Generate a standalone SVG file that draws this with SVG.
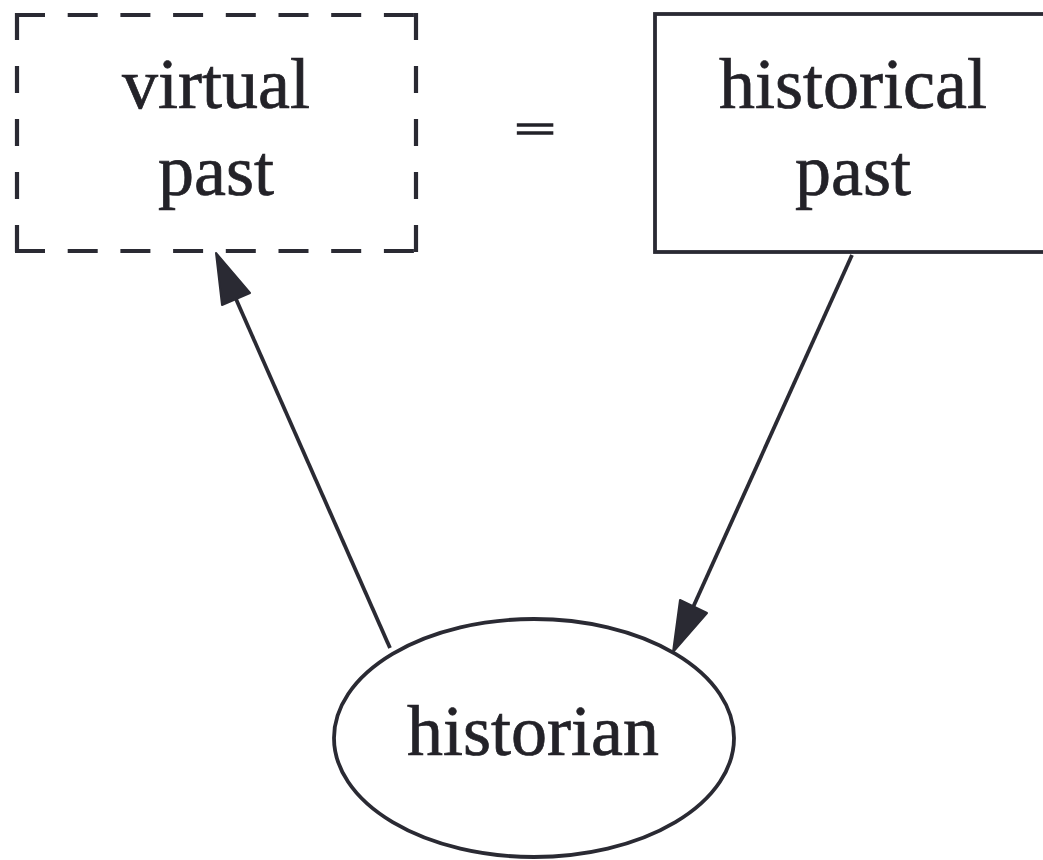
<svg xmlns="http://www.w3.org/2000/svg" width="1043" height="860" viewBox="0 0 1043 860">
<style>
.lbl{font-family:"Liberation Serif","Times New Roman",serif;font-size:72px;fill:#232228;stroke:#232228;stroke-width:0.7;text-anchor:middle}
.edge{fill:none;stroke:#2a2a33;stroke-width:3.8}
.dh{fill:none;stroke:#2a2a33;stroke-width:4.2;stroke-dasharray:30 22.7}
.dv{fill:none;stroke:#2a2a33;stroke-width:4.2;stroke-dasharray:27 26}
.head{fill:#2a2a33;stroke:#2a2a33;stroke-width:2;stroke-linejoin:round}
</style>
<rect width="1043" height="860" fill="#ffffff"/>
<g id="virtual-past">
<line class="dh" x1="15" y1="15" x2="418" y2="15"/>
<line class="dh" x1="15" y1="251" x2="418" y2="251"/>
<line class="dv" x1="17" y1="13" x2="17" y2="253"/>
<line class="dv" x1="416" y1="13" x2="416" y2="253"/>
<text class="lbl" x="216" y="108">virtual</text>
<text class="lbl" x="216" y="195">past</text>
</g>
<g id="equals">
<text class="lbl" x="535" y="0" transform="translate(0,143) scale(1,0.55)" style="stroke-width:3">=</text>
</g>
<g id="historical-past">
<rect class="edge" x="655" y="14" width="420" height="238"/>
<text class="lbl" x="853" y="108">historical</text>
<text class="lbl" x="853" y="195">past</text>
</g>
<g id="historian">
<ellipse class="edge" cx="534" cy="738" rx="200" ry="119"/>
<text class="lbl" x="533" y="755">historian</text>
</g>
<g id="connectors">
<line class="edge" x1="390" y1="648" x2="232" y2="290"/>
<polygon class="head" points="216,253 222,305 250,293"/>
<line class="edge" x1="852" y1="255" x2="690" y2="614"/>
<polygon class="head" points="673,652 707,613 680,600"/>
</g>
</svg>
